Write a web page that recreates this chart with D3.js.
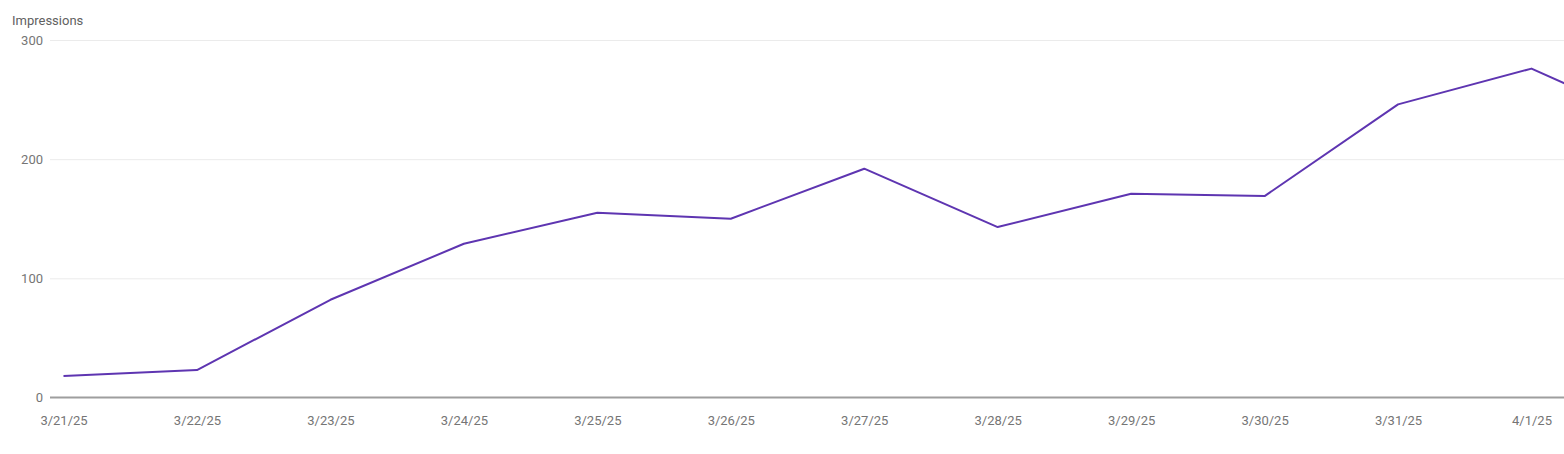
<!DOCTYPE html>
<html>
<head>
<meta charset="utf-8">
<script src="https://cdn.jsdelivr.net/npm/d3@7"></script>
<style>
  html, body { margin: 0; padding: 0; background: #fff; overflow: hidden; }
  svg { display: block; font-family: Roboto, "Noto Sans", sans-serif; }
</style>
</head>
<body>
<div id="chart"></div>
<script>
// impressions per day (last point runs off the right edge)
var dates = ["2025-03-21","2025-03-22","2025-03-23","2025-03-24","2025-03-25","2025-03-26",
             "2025-03-27","2025-03-28","2025-03-29","2025-03-30","2025-03-31","2025-04-01","2025-04-02"];
var impressions = [18, 23, 82, 129, 155, 150, 192, 143, 171, 169, 246, 276, 226];
var yTicks = [0, 100, 200, 300];
var tickDates = dates.slice(0, 12);

var w = 1564, h = 454;
var parse = d3.timeParse("%Y-%m-%d");
var fmt = d3.timeFormat("%-m/%-d/%y");

var data = dates.map(function(d, i){ return {date: parse(d), value: impressions[i]}; });

var svg = d3.select("#chart").append("svg")
    .attr("width", w)
    .attr("height", h);

var x = d3.scaleTime()
    .domain([parse(dates[0]), parse(dates[11])])
    .range([63.5, 1531.5]);

var y = d3.scaleLinear()
    .domain([0, 300])
    .range([397.5, 40]);

// gridlines + y labels
var yAxis = d3.axisLeft(y)
    .tickValues(yTicks)
    .tickSize(-(w - 50))
    .tickPadding(7)
    .tickFormat(d3.format("d"));

var gy = svg.append("g")
    .attr("transform", "translate(50,0)")
    .call(yAxis);
gy.select(".domain").remove();
gy.selectAll(".tick line")
    .attr("stroke", "#ebebeb")
    .attr("stroke-width", 1)
    .filter(function(d){ return d === 0; }).remove();
gy.selectAll(".tick text")
    .attr("fill", "#757575")
    .style("font-size", "13px")
    .style("font-family", "Roboto, sans-serif");

svg.append("text")
    .attr("x", 12)
    .attr("y", 25)
    .attr("fill", "#616161")
    .style("font-size", "13px")
    .text("Impressions");

// x axis
var xAxis = d3.axisBottom(x)
    .tickValues(tickDates.map(parse))
    .tickSize(0)
    .tickPadding(18)
    .tickFormat(fmt);

var gx = svg.append("g")
    .attr("transform", "translate(0," + y(0) + ")")
    .call(xAxis);
gx.select(".domain").remove();
gx.selectAll(".tick text")
    .attr("fill", "#757575")
    .style("font-size", "13px")
    .style("font-family", "Roboto, sans-serif");

svg.append("line")
    .attr("x1", 50)
    .attr("x2", w)
    .attr("y1", y(0))
    .attr("y2", y(0))
    .attr("stroke", "#9e9e9e")
    .attr("stroke-width", 2);

var line = d3.line()
    .x(function(d){ return x(d.date); })
    .y(function(d){ return y(d.value); });

svg.append("path")
    .datum(data)
    .attr("d", line)
    .attr("fill", "none")
    .attr("stroke", "#5e35b1")
    .attr("stroke-width", 2)
    .attr("stroke-linejoin", "round");
</script>
</body>
</html>
